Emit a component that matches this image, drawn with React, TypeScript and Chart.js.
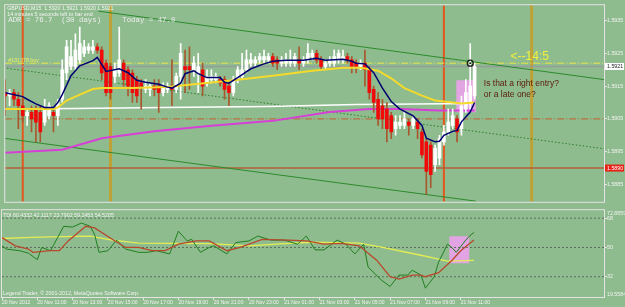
import React, { useEffect, useRef } from "react";
import { Chart, registerables } from "chart.js";

Chart.register(...registerables);

const FONT = '"Liberation Sans", "DejaVu Sans", Arial, sans-serif';
const MONO = '"Liberation Mono", "DejaVu Sans Mono", monospace';
const BG = "#8fbc8f";

// ---------- time axis (M15 bars, one label every 8 bars) ----------
const timeTickLabels = [
  "20 Nov 2012", "20 Nov 11:00", "20 Nov 13:00", "20 Nov 15:00", "20 Nov 17:00",
  "20 Nov 19:00", "20 Nov 21:00", "20 Nov 23:00", "21 Nov 01:00", "21 Nov 03:00",
  "21 Nov 05:00", "21 Nov 07:00", "21 Nov 09:00", "21 Nov 11:00",
];
const BARS_PER_TICK = 8;

// ---------- GBPUSD M15 candles ----------
const opens = [
  1.5913, 1.5912, 1.5913, 1.5911, 1.5909, 1.5906, 1.5907, 1.5908, 1.5907, 1.5904,
  1.5906, 1.5907, 1.5906, 1.5911, 1.5919, 1.5921, 1.5921, 1.5923, 1.5925, 1.5926,
  1.5926, 1.5927, 1.5926, 1.5922, 1.5921, 1.5918, 1.5919, 1.5922, 1.5920, 1.5919,
  1.5917, 1.5916, 1.5914, 1.5914, 1.5915, 1.5915, 1.5913, 1.5914, 1.5915, 1.5914,
  1.5918, 1.5921, 1.5921, 1.5920, 1.5919, 1.5920, 1.5916, 1.5917, 1.5917, 1.5917,
  1.5917, 1.5915, 1.5913, 1.5917, 1.5918, 1.5920, 1.5922, 1.5922, 1.5923, 1.5923,
  1.5923, 1.5924, 1.5923, 1.5922, 1.5922, 1.5922, 1.5922, 1.5923, 1.5922, 1.5923,
  1.5924, 1.5925, 1.5923, 1.5921, 1.5922, 1.5922, 1.5923, 1.5923, 1.5924, 1.5923,
  1.5922, 1.5921, 1.5922, 1.5920, 1.5914, 1.5911, 1.5909, 1.5908, 1.5906, 1.5902,
  1.5903, 1.5903, 1.5904, 1.5903, 1.5904, 1.5901, 1.5898, 1.5897, 1.5891, 1.5893,
  1.5898, 1.5901, 1.5903, 1.5905, 1.5902, 1.5908, 1.5910, 1.5912,
];
const highs = [
  1.5917, 1.5914, 1.5914, 1.5913, 1.5911, 1.5908, 1.5909, 1.5909, 1.5909, 1.5911,
  1.5910, 1.5908, 1.5911, 1.5923, 1.5929, 1.5929, 1.5931, 1.5933, 1.5929, 1.5928,
  1.5929, 1.5928, 1.5927, 1.5923, 1.5922, 1.5922, 1.5933, 1.5923, 1.5921, 1.5920,
  1.5918, 1.5917, 1.5917, 1.5916, 1.5917, 1.5917, 1.5916, 1.5916, 1.5923, 1.5919,
  1.5928, 1.5926, 1.5927, 1.5924, 1.5925, 1.5922, 1.5920, 1.5920, 1.5919, 1.5918,
  1.5918, 1.5916, 1.5918, 1.5921, 1.5925, 1.5926, 1.5925, 1.5924, 1.5925, 1.5926,
  1.5925, 1.5925, 1.5924, 1.5924, 1.5925, 1.5926, 1.5925, 1.5927, 1.5924, 1.5928,
  1.5926, 1.5926, 1.5924, 1.5923, 1.5924, 1.5926, 1.5926, 1.5926, 1.5925, 1.5924,
  1.5923, 1.5923, 1.5926, 1.5921, 1.5915, 1.5913, 1.5911, 1.5910, 1.5907, 1.5906,
  1.5906, 1.5907, 1.5905, 1.5906, 1.5905, 1.5902, 1.5899, 1.5898, 1.5897, 1.5900,
  1.5903, 1.5908, 1.5908, 1.5906, 1.5912, 1.5917, 1.5928, 1.5922,
];
const lows = [
  1.5906, 1.5909, 1.5909, 1.5902, 1.5904, 1.5903, 1.5901, 1.5898, 1.5898, 1.5903,
  1.5905, 1.5901, 1.5903, 1.5910, 1.5917, 1.5920, 1.5920, 1.5922, 1.5924, 1.5925,
  1.5925, 1.5925, 1.5917, 1.5912, 1.5911, 1.5916, 1.5918, 1.5915, 1.5912, 1.5910,
  1.5910, 1.5908, 1.5913, 1.5912, 1.5912, 1.5907, 1.5912, 1.5913, 1.5909, 1.5913,
  1.5911, 1.5913, 1.5914, 1.5918, 1.5913, 1.5912, 1.5915, 1.5916, 1.5916, 1.5915,
  1.5911, 1.5909, 1.5912, 1.5916, 1.5917, 1.5919, 1.5921, 1.5921, 1.5922, 1.5922,
  1.5922, 1.5921, 1.5920, 1.5921, 1.5921, 1.5921, 1.5921, 1.5920, 1.5921, 1.5922,
  1.5923, 1.5922, 1.5920, 1.5920, 1.5921, 1.5921, 1.5922, 1.5922, 1.5922, 1.5919,
  1.5919, 1.5920, 1.5915, 1.5911, 1.5907, 1.5903, 1.5902, 1.5898, 1.5899, 1.5900,
  1.5902, 1.5902, 1.5900, 1.5902, 1.5899, 1.5893, 1.5882, 1.5884, 1.5889, 1.5891,
  1.5897, 1.5900, 1.5902, 1.5898, 1.5900, 1.5907, 1.5908, 1.5911,
];
const closes = [
  1.5912, 1.5913, 1.5911, 1.5909, 1.5906, 1.5907, 1.5905, 1.5904, 1.5901, 1.5908,
  1.5909, 1.5906, 1.5910, 1.5920, 1.5927, 1.5924, 1.5926, 1.5928, 1.5927, 1.5927,
  1.5927, 1.5926, 1.5919, 1.5913, 1.5913, 1.5920, 1.5923, 1.5917, 1.5915, 1.5913,
  1.5912, 1.5915, 1.5915, 1.5915, 1.5914, 1.5913, 1.5915, 1.5915, 1.5914, 1.5918,
  1.5925, 1.5920, 1.5920, 1.5922, 1.5921, 1.5915, 1.5918, 1.5918, 1.5918, 1.5916,
  1.5914, 1.5913, 1.5917, 1.5920, 1.5920, 1.5923, 1.5923, 1.5923, 1.5924, 1.5924,
  1.5924, 1.5922, 1.5922, 1.5923, 1.5923, 1.5923, 1.5924, 1.5922, 1.5923, 1.5925,
  1.5925, 1.5923, 1.5921, 1.5922, 1.5923, 1.5924, 1.5925, 1.5924, 1.5923, 1.5921,
  1.5921, 1.5922, 1.5920, 1.5913, 1.5910, 1.5905, 1.5905, 1.5902, 1.5901, 1.5904,
  1.5904, 1.5905, 1.5903, 1.5905, 1.5902, 1.5894, 1.5889, 1.5888, 1.5896, 1.5899,
  1.5901, 1.5904, 1.5906, 1.5901, 1.5909, 1.5913, 1.5915, 1.5921,
];

// ---------- moving averages (bar index -> value) ----------
const fastMaIdx = [0, 4, 5, 7, 9, 11, 12, 13, 15, 17, 20, 21, 23, 26, 28, 30, 32, 35, 37, 38, 40, 41, 43, 44, 46, 49, 50, 51, 53, 56, 59, 61, 64, 68, 71, 73, 77, 79, 80, 82, 84, 86, 88, 90, 93, 95, 96, 98, 99, 100, 102, 103, 104, 106, 107];
const fastMaVal = [1.5913, 1.59118, 1.5911, 1.59096, 1.59085, 1.59085, 1.591, 1.59124, 1.59182, 1.59212, 1.59228, 1.59238, 1.59195, 1.59203, 1.59191, 1.59168, 1.59162, 1.59156, 1.59147, 1.59144, 1.59159, 1.59188, 1.59197, 1.59188, 1.59176, 1.59176, 1.59162, 1.59159, 1.59176, 1.59203, 1.59218, 1.59226, 1.59229, 1.59229, 1.59235, 1.59229, 1.59232, 1.59226, 1.5922, 1.59218, 1.59191, 1.59144, 1.59103, 1.5908, 1.59059, 1.5903, 1.58991, 1.5898, 1.58982, 1.59, 1.59012, 1.59015, 1.59041, 1.59071, 1.591];

const midMaIdx = [0, 11, 12, 14, 17, 20, 22, 29, 37, 43, 52, 61, 70, 77, 81, 85, 88, 91, 95, 98, 102, 104, 107];
const midMaVal = [1.5908, 1.5908, 1.59085, 1.59106, 1.59124, 1.59141, 1.59144, 1.59144, 1.59147, 1.59156, 1.59168, 1.59182, 1.59197, 1.59206, 1.59206, 1.59197, 1.59174, 1.59144, 1.59121, 1.59106, 1.591, 1.59097, 1.591];

const slowMaIdx = [0, 16, 36, 60, 80, 107];
const slowMaVal = [1.5908, 1.59082, 1.59085, 1.59088, 1.59094, 1.59097];

const longMaIdx = [0, 13, 22, 34, 47, 61, 74, 83, 90, 99, 107];
const longMaVal = [1.58947, 1.58956, 1.58991, 1.59012, 1.59029, 1.59044, 1.59071, 1.5908, 1.5908, 1.59076, 1.59076];

// ---------- levels, objects ----------
const priceTicks = [1.5885, 1.5895, 1.5905, 1.5915, 1.5925, 1.5935];
const bidPrice = 1.5921;
const buyPrice = 1.5922;
const dashDotLevel = 1.5905;
const supportLevel = 1.589;
const entryBar = 106;
const sessionBars = [4, 100];
const dayBars = [24, 120];
const upperTrend = [{ x: 21.2, y: 1.59379 }, { x: 136.5, y: 1.5917 }];
const lowerTrend = [{ x: -0.4, y: 1.58991 }, { x: 107.3, y: 1.58799 }];
const dottedTrend = [{ x: -0.4, y: 1.59206 }, { x: 136.5, y: 1.58959 }];
const entryZoneBars = [102.8, 107.3];
const entryZonePrices = [1.5907, 1.59168];

// ---------- TDI ----------
const tdiRsiIdx = [0, 1, 4, 6, 8, 9, 11, 14, 16, 18, 20, 21, 22, 24, 26, 28, 31, 33, 35, 38, 40, 42, 43, 45, 47, 48, 51, 53, 56, 58, 61, 64, 67, 69, 71, 73, 76, 78, 80, 82, 83, 86, 88, 90, 92, 93, 95, 96, 98, 99, 101, 102, 103, 105, 106, 107];
const tdiRsiVal = [51, 49, 48, 46.5, 42.5, 50, 48, 63, 62.5, 65, 63, 58, 47, 48, 54.5, 49, 47, 47, 48, 46, 60, 54, 55, 47, 50, 51, 46, 53, 54, 57, 54.5, 54.5, 52, 57, 48.5, 48.5, 54.5, 52, 46, 52, 38, 30, 26, 33, 33, 36, 33, 25, 32, 41, 52, 50, 47, 54, 57, 59.2453];
const tdiSignalIdx = [0, 3, 6, 7, 11, 13, 15, 19, 21, 25, 28, 31, 34, 37, 40, 44, 47, 51, 54, 59, 65, 69, 73, 77, 81, 85, 88, 90, 93, 95, 96, 99, 102, 104, 107];
const tdiSignalVal = [56, 51, 49, 47, 48, 48, 54, 63, 62, 55, 50, 50, 48, 48, 52, 54, 54, 48, 50, 55, 54.5, 54, 52, 52.5, 51, 42, 32, 30.5, 33, 33, 32, 34.5, 42, 48, 54.5205];
const tdiBaseIdx = [0, 5, 11, 20, 25, 31, 47, 56, 64, 70, 81, 86, 95, 98, 101, 107];
const tdiBaseVal = [55.5, 56, 56.5, 57, 54.5, 52.6, 52.4, 51, 52.4, 53.2, 52.6, 50.2, 45.2, 43.4, 41.6, 42.1117];
const tdiLevels = [32, 50, 68];
const TDI_MIN = 19.5584;
const TDI_MAX = 72.8859;
const tdiZoneBars = [101.4, 106];
const tdiZoneVals = [40.25, 56.8];

// ---------- geometry of the scales ----------
const X_MIN = 0;
const X_MAX = 136.5;
const Y_MIN = 1.58797;
const Y_MAX = 1.59397;

const pts = (idx: number[], val: number[]) => idx.map((x, k) => ({ x, y: val[k] }));
const hLine = (v: number) => [{ x: X_MIN, y: v }, { x: X_MAX, y: v }];

function lineDs(data: any[], color: string, width: number, order: number, extra: any = {}) {
  return {
    type: "line",
    data,
    borderColor: color,
    borderWidth: width,
    pointRadius: 0,
    tension: 0,
    fill: false,
    order,
    ...extra,
  };
}

const mainDecor = {
  id: "mainDecor",
  afterDatasetsDraw(chart: any) {
    const { ctx, chartArea: a, scales } = chart;
    const xs = scales.x;
    const ys = scales.y;
    ctx.save();
    ctx.textBaseline = "middle";
    ctx.textAlign = "left";
    ctx.fillStyle = "#f4f4f4";
    ctx.font = `5.3px ${FONT}`;
    ctx.fillText("GBPUSD,M15  1.5920 1.5921 1.5920 1.5921", a.left + 2, a.top + 3);
    ctx.fillText("14 minutes 5 seconds left to bar end", a.left + 2, a.top + 9);
    ctx.fillStyle = "#eeeeee";
    ctx.font = `7.4px ${MONO}`;
    ctx.fillText("ADR = 76.7", a.left + 3, a.top + 15);
    ctx.fillText("(30 days)", a.left + 56, a.top + 15);
    ctx.fillText("Today = 47.0", a.left + 117, a.top + 15);

    ctx.fillStyle = "#eef06a";
    ctx.font = `5.3px ${FONT}`;
    ctx.textBaseline = "alphabetic";
    ctx.fillText("#131378 buy", a.left + 3, ys.getPixelForValue(buyPrice) - 1.5);

    ctx.textBaseline = "middle";
    ctx.fillStyle = "#f2f03a";
    ctx.font = `12px ${FONT}`;
    ctx.fillText("<--14:5", xs.getPixelForValue(115.2), ys.getPixelForValue(1.59241));

    ctx.fillStyle = "#5a1a0a";
    ctx.font = `8.5px ${FONT}`;
    ctx.fillText("Is that a right entry?", xs.getPixelForValue(109.1), ys.getPixelForValue(1.59159));
    ctx.fillText("or a late one?", xs.getPixelForValue(109.1), ys.getPixelForValue(1.59124));
    ctx.restore();
  },
  afterDraw(chart: any) {
    const { ctx, chartArea: a, scales } = chart;
    const ys = scales.y;
    ctx.save();
    ctx.strokeStyle = "#e4e4e4";
    ctx.lineWidth = 1;
    ctx.strokeRect(a.left - 0.5, a.top - 0.5, a.right - a.left + 1, a.bottom - a.top + 1);

    ctx.font = `5.3px ${FONT}`;
    ctx.textBaseline = "middle";
    ctx.textAlign = "left";
    const yb = ys.getPixelForValue(bidPrice);
    ctx.fillStyle = "#ffffff";
    ctx.fillRect(a.right + 1, yb - 3.5, 19, 7);
    ctx.fillStyle = "#222222";
    ctx.fillText(bidPrice.toFixed(4), a.right + 3, yb);

    const ysup = ys.getPixelForValue(supportLevel);
    ctx.fillStyle = "#e82018";
    ctx.fillRect(a.right + 1, ysup - 3.5, 19, 7);
    ctx.fillStyle = "#ffffff";
    ctx.fillText(supportLevel.toFixed(4), a.right + 3, ysup);
    ctx.restore();
  },
};

const tdiDecor = {
  id: "tdiDecor",
  afterDatasetsDraw(chart: any) {
    const { ctx, chartArea: a } = chart;
    ctx.save();
    ctx.fillStyle = "#f4f4f4";
    ctx.textAlign = "left";
    ctx.textBaseline = "middle";
    ctx.font = `5.3px ${FONT}`;
    ctx.fillText("TDI 60.4332 42.1117 23.7902 59.2453 54.5205", a.left + 1, a.top + 5);
    ctx.fillText("Legend Trader, \u00a9 2001-2012, MetaQuotes Software Corp.", a.left + 1, a.bottom - 3.5);
    ctx.restore();
  },
  afterDraw(chart: any) {
    const { ctx, chartArea: a } = chart;
    ctx.save();
    ctx.strokeStyle = "#e4e4e4";
    ctx.lineWidth = 1;
    ctx.strokeRect(a.left - 0.5, a.top - 0.5, a.right - a.left + 1, a.bottom - a.top + 1);
    ctx.fillStyle = "#f0f0f0";
    ctx.font = `5.3px ${FONT}`;
    ctx.textAlign = "left";
    ctx.textBaseline = "top";
    ctx.fillText(TDI_MAX.toFixed(4), a.right + 3, a.top + 1);
    ctx.textBaseline = "bottom";
    ctx.fillText(TDI_MIN.toFixed(4), a.right + 3, a.bottom);
    ctx.restore();
  },
};

function mainConfig(): any {
  const bull = opens.map((o, i) => closes[i] >= o);
  const datasets: any[] = [];

  // entry zone rectangle
  datasets.push(
    lineDs(
      [{ x: entryZoneBars[0], y: entryZonePrices[1] }, { x: entryZoneBars[1], y: entryZonePrices[1] }],
      "rgba(0,0,0,0)", 0, 100,
      { fill: { value: entryZonePrices[0] }, backgroundColor: "#e2a4e2" }
    )
  );
  // vertical session lines
  sessionBars.forEach((b) =>
    datasets.push(lineDs([{ x: b, y: Y_MIN }, { x: b, y: Y_MAX }], "#e4561e", 2, 90))
  );
  dayBars.forEach((b) =>
    datasets.push(lineDs([{ x: b, y: Y_MIN }, { x: b, y: Y_MAX }], "#bea236", 3, 90))
  );
  // horizontal levels
  datasets.push(lineDs(hLine(dashDotLevel), "#c0602e", 1, 85, { borderDash: [7, 2, 1, 2] }));
  datasets.push(lineDs(hLine(supportLevel), "#b0603a", 1.5, 85));
  datasets.push(lineDs(hLine(bidPrice), "rgba(150,150,160,0.85)", 1.5, 85));
  datasets.push(lineDs(hLine(buyPrice), "#e6e848", 1, 84, { borderDash: [7, 2, 1, 2] }));
  // trendlines
  datasets.push(lineDs(upperTrend, "#2c8a2c", 1, 80));
  datasets.push(lineDs(lowerTrend, "#2c8a2c", 1, 80));
  datasets.push(lineDs(dottedTrend, "#2e7d2e", 1, 80, { borderDash: [1.5, 2] }));
  // slow averages
  datasets.push(lineDs(pts(longMaIdx, longMaVal), "#d640d6", 2, 70));
  datasets.push(lineDs(pts(slowMaIdx, slowMaVal), "#ffffff", 1.5, 70));
  // candles
  datasets.push({
    type: "bar",
    data: opens.map((_, i) => ({ x: i, y: [lows[i], highs[i]] })),
    backgroundColor: bull.map((b) => (b ? "#ffffff" : "#a8582e")),
    barThickness: 1,
    grouped: false,
    borderWidth: 0,
    order: 60,
  });
  datasets.push({
    type: "bar",
    data: opens.map((o, i) => ({ x: i, y: [Math.min(o, closes[i]), Math.max(o, closes[i])] })),
    backgroundColor: bull.map((b) => (b ? "#ffffff" : "#f00a0a")),
    barThickness: 3,
    grouped: false,
    borderWidth: 0,
    minBarLength: 1,
    order: 55,
  });
  // faster averages
  datasets.push(lineDs(pts(midMaIdx, midMaVal), "#f4da2a", 2, 50));
  datasets.push(lineDs(pts(fastMaIdx, fastMaVal), "#000070", 1.5, 45));
  // entry marker
  datasets.push({
    type: "line",
    data: [{ x: entryBar, y: buyPrice }],
    showLine: false,
    pointRadius: 3,
    pointBorderWidth: 1.2,
    pointBorderColor: "#1a1a1a",
    pointBackgroundColor: "rgba(0,0,0,0)",
    order: 40,
  });
  datasets.push({
    type: "line",
    data: [{ x: entryBar, y: buyPrice }],
    showLine: false,
    pointRadius: 0.9,
    pointBorderWidth: 0,
    pointBackgroundColor: "#1a1a1a",
    order: 39,
  });

  return {
    type: "bar",
    data: { datasets },
    plugins: [mainDecor],
    options: {
      responsive: false,
      animation: false,
      events: [],
      layout: { padding: { left: 2, top: 2, right: 0, bottom: 1 } },
      plugins: { legend: { display: false }, tooltip: { enabled: false } },
      scales: {
        x: { type: "linear", min: X_MIN, max: X_MAX, offset: false, display: false },
        y: {
          type: "linear",
          position: "right",
          min: Y_MIN,
          max: Y_MAX,
          afterBuildTicks: (s: any) => {
            s.ticks = priceTicks.map((v) => ({ value: v }));
          },
          afterFit: (s: any) => {
            s.width = 21;
          },
          grid: { drawOnChartArea: false, drawTicks: true, tickLength: 3, color: "#e4e4e4" },
          border: { display: false },
          ticks: {
            autoSkip: false,
            padding: 0,
            color: "#f2f2f2",
            font: { size: 5.3, family: FONT },
            callback: (v: number) => Number(v).toFixed(4),
          },
        },
      },
    },
  };
}

function tdiConfig(): any {
  const datasets: any[] = [];
  datasets.push(
    lineDs(
      [{ x: tdiZoneBars[0], y: tdiZoneVals[1] }, { x: tdiZoneBars[1], y: tdiZoneVals[1] }],
      "rgba(0,0,0,0)", 0, 100,
      { fill: { value: tdiZoneVals[0] }, backgroundColor: "#e2a4e2" }
    )
  );
  tdiLevels.forEach((v) =>
    datasets.push(lineDs([{ x: X_MIN, y: v }, { x: X_MAX, y: v }], "#5d6b5d", 1, 90, { borderDash: [2, 2] }))
  );
  datasets.push(lineDs(pts(tdiBaseIdx, tdiBaseVal), "#e4ee52", 1.3, 60));
  datasets.push(lineDs(pts(tdiSignalIdx, tdiSignalVal), "#b8482c", 1.3, 50));
  datasets.push(lineDs(pts(tdiRsiIdx, tdiRsiVal), "#1f7f1f", 1, 55));

  return {
    type: "line",
    data: { datasets },
    plugins: [tdiDecor],
    options: {
      responsive: false,
      animation: false,
      events: [],
      layout: { padding: { left: 2, top: 1, right: 0, bottom: 0 } },
      plugins: { legend: { display: false }, tooltip: { enabled: false } },
      scales: {
        x: {
          type: "linear",
          min: X_MIN,
          max: X_MAX,
          offset: false,
          afterBuildTicks: (s: any) => {
            s.ticks = timeTickLabels.map((_, k) => ({ value: k * BARS_PER_TICK }));
          },
          afterFit: (s: any) => {
            s.height = 10;
          },
          grid: { drawOnChartArea: false, drawTicks: true, tickLength: 3, color: "#e4e4e4" },
          border: { display: false },
          ticks: {
            autoSkip: false,
            maxRotation: 0,
            minRotation: 0,
            align: "start",
            padding: 0,
            color: "#f2f2f2",
            font: { size: 5, family: FONT },
            callback: (v: number) => timeTickLabels[Math.round(v / BARS_PER_TICK)] ?? "",
          },
        },
        y: {
          type: "linear",
          position: "right",
          min: TDI_MIN,
          max: TDI_MAX,
          afterBuildTicks: (s: any) => {
            s.ticks = tdiLevels.map((v) => ({ value: v }));
          },
          afterFit: (s: any) => {
            s.width = 21;
          },
          grid: { drawOnChartArea: false, drawTicks: true, tickLength: 3, color: "#e4e4e4" },
          border: { display: false },
          ticks: {
            autoSkip: false,
            padding: 0,
            color: "#f2f2f2",
            font: { size: 5.3, family: FONT },
            callback: (v: number) => String(v),
          },
        },
      },
    },
  };
}

export default function App() {
  const mainRef = useRef<HTMLCanvasElement>(null);
  const tdiRef = useRef<HTMLCanvasElement>(null);

  useEffect(() => {
    const c1 = new Chart(mainRef.current as HTMLCanvasElement, mainConfig());
    const c2 = new Chart(tdiRef.current as HTMLCanvasElement, tdiConfig());
    return () => {
      c1.destroy();
      c2.destroy();
    };
  }, []);

  return (
    <div
      style={{
        position: "fixed",
        left: 0,
        top: 0,
        width: 625,
        height: 307,
        background: BG,
        overflow: "hidden",
      }}
    >
      <canvas ref={mainRef} width={625} height={207} style={{ position: "absolute", left: 0, top: 0 }} />
      <canvas ref={tdiRef} width={625} height={100} style={{ position: "absolute", left: 0, top: 207 }} />
    </div>
  );
}
